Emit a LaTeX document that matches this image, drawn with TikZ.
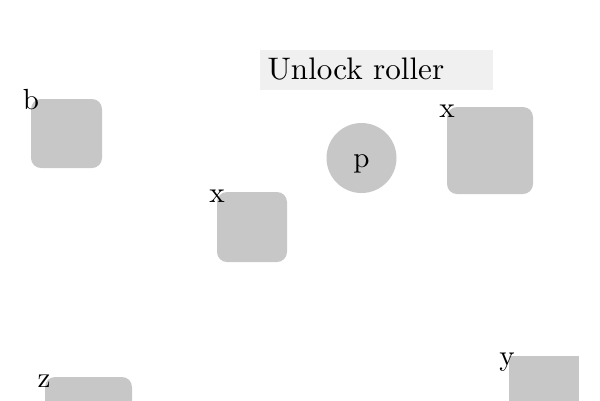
\documentclass[tikz,border=0pt]{standalone}
\usepackage{fontspec}
\newlength\pxu
\setlength\pxu{0.3436pt}
\begin{document}
\begin{tikzpicture}[x=0.3436pt,y=-0.3436pt,
  blob/.style={fill=black!22,draw=none,rounded corners=10\pxu,inner sep=0pt},
  sqblob/.style={fill=black!22,draw=none,inner sep=0pt},
  tag/.style={anchor=base,inner sep=0pt}]
\useasboundingbox (0,0) rectangle (600,400);
\fill[black!6] (260,50) rectangle (493,90);
\node[anchor=base west,inner sep=0pt,font=\fontsize{10.7}{13}\selectfont] (title) at (267,79) {Unlock roller};
\node[blob,minimum width=71\pxu,minimum height=69\pxu] (b) at (66.5,133.5) {};
\node[tag] (bl) at (31,109) {b};
\node[blob,minimum width=70\pxu,minimum height=70\pxu] (x1) at (252,227) {};
\node[tag] (x1l) at (217,202) {x};
\node[circle,fill=black!22,draw=none,minimum size=70\pxu,inner sep=0pt] (p) at (361.5,158) {};
\node[tag] (pl) at (361.5,167.5) {p};
\node[blob,minimum width=86\pxu,minimum height=87\pxu] (x2) at (490,150.5) {};
\node[tag] (x2l) at (447,117) {x};
\node[blob,minimum width=87\pxu,minimum height=87\pxu] (z) at (88.5,420.5) {};
\node[tag] (zl) at (44,387) {z};
\node[sqblob,minimum width=70\pxu,minimum height=70\pxu] (y) at (544,391) {};
\node[tag] (yl) at (507,365) {y};
\end{tikzpicture}
\end{document}
